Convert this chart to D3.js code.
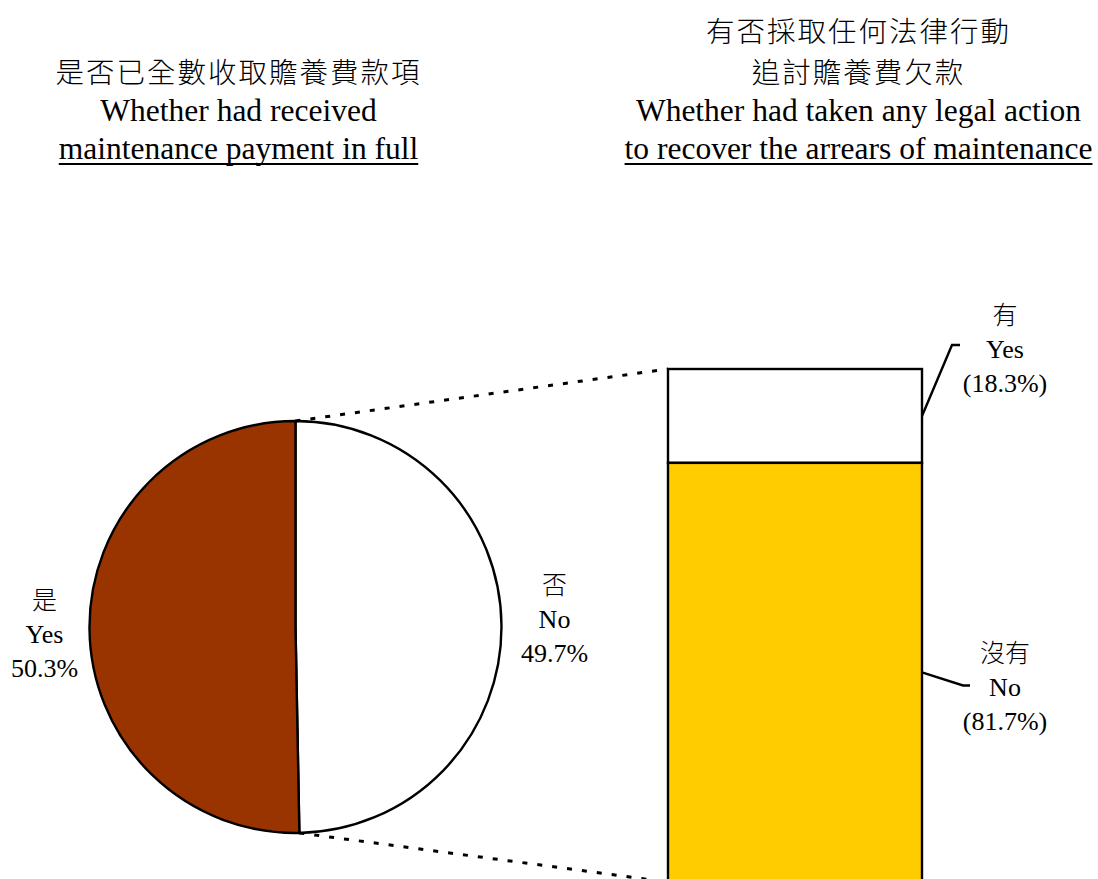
<!DOCTYPE html>
<html>
<head>
<meta charset="utf-8">
<script src="https://cdn.jsdelivr.net/npm/d3@7"></script>
<style>
  html, body { margin: 0; padding: 0; background: #fff; }
  svg { display: block; }
  text { font-family: "Liberation Serif", "Times New Roman", "Noto Sans CJK TC", serif; fill: #000; }
  .cjk { font-family: "Noto Sans CJK TC", "Noto Sans CJK SC", sans-serif; font-weight: 300; }
</style>
</head>
<body>
<svg id="chart" width="1098" height="879"></svg>
<script>
// Pie: whether maintenance payment was received in full
const pieCategories = ["否", "是"];
const pieCategoriesEn = ["No", "Yes"];
const pieValues = [49.7, 50.3];
const pieColors = ["#ffffff", "#993300"];

// Stacked bar: legal action taken to recover arrears (among "No")
const barCategories = ["有", "沒有"];
const barCategoriesEn = ["Yes", "No"];
const barValues = [18.3, 81.7];
const barColors = ["#ffffff", "#ffcc00"];

const leftTitle = ["是否已全數收取贍養費款項", "Whether had received", "maintenance payment in full"];
const rightTitle = ["有否採取任何法律行動", "追討贍養費欠款", "Whether had taken any legal action", "to recover the arrears of maintenance"];

const isCJK = s => /[\u3400-\u9fff]/.test(s);
const svg = d3.select("#chart");

// ---- titles: lines are stacked upward from the underlined last line ----
function drawTitle(lines, cx, lastBaseline) {
  const g = svg.append("g");
  let yPos = lastBaseline;
  let w = 0;
  for (let i = lines.length - 1; i >= 0; i--) {
    const t = lines[i];
    const cjk = isCJK(t);
    const txt = g.append("text")
      .attr("class", cjk ? "cjk" : null)
      .attr("x", cx)
      .attr("y", yPos)
      .attr("text-anchor", "middle")
      .attr("font-size", cjk ? 28.5 : 31.5)
      .attr("letter-spacing", cjk ? 2 : null)
      .text(t);
    if (i === lines.length - 1) w = txt.node().getComputedTextLength();
    // step to the previous line; CJK lines need a taller line box
    const prev = lines[i - 1];
    yPos -= (prev && isCJK(prev) && cjk) ? 41.5 : 38;
  }
  const uy = lastBaseline + 5;
  g.append("line")
    .attr("x1", cx - w / 2).attr("x2", cx + w / 2)
    .attr("y1", uy).attr("y2", uy)
    .attr("stroke", "#000").attr("stroke-width", 1.8);
}
drawTitle(leftTitle, 238.5, 159);
drawTitle(rightTitle, 858.5, 159);

// ---- pie ----
const cx = 295.5, cy = 627, r = 206;
const pie = d3.pie().sort(null).startAngle(0).endAngle(2 * Math.PI);
const arcs = pie(pieValues);
const arc = d3.arc().innerRadius(0).outerRadius(r);

const pieG = svg.append("g").attr("transform", `translate(${cx},${cy})`);
pieG.selectAll("path")
  .data(arcs)
  .join("path")
  .attr("d", arc)
  .attr("fill", (d, i) => pieColors[i])
  .attr("stroke", "#000")
  .attr("stroke-width", 2.4)
  .attr("stroke-linejoin", "round");

// pie labels: "No" to the right, "Yes" to the left
const pieLabelX = [cx + r + 53, cx - r - 45];
const pieLabelY = [594, 609];
const pieFmt = v => v.toFixed(1) + "%";
pieValues.forEach((v, i) => {
  const lines = [pieCategories[i], pieCategoriesEn[i], pieFmt(v)];
  lines.forEach((t, j) => {
    svg.append("text")
      .attr("class", isCJK(t) ? "cjk" : null)
      .attr("x", pieLabelX[i])
      .attr("y", pieLabelY[i] + j * 34)
      .attr("text-anchor", "middle")
      .attr("font-size", isCJK(t) ? 25 : 26)
      .text(t);
  });
});

// ---- stacked bar ----
const barX0 = 668, barX1 = 922;
const y = d3.scaleLinear().domain([0, 100]).range([369, 882]);
const stacked = [];
let acc = 0;
barValues.forEach((v, i) => { stacked.push({ v, i, y0: acc, y1: acc + v }); acc += v; });

svg.selectAll("rect.seg")
  .data(stacked)
  .join("rect")
  .attr("class", "seg")
  .attr("x", barX0)
  .attr("width", barX1 - barX0)
  .attr("y", d => y(d.y0))
  .attr("height", d => y(d.y1) - y(d.y0))
  .attr("fill", d => barColors[d.i])
  .attr("stroke", "#000")
  .attr("stroke-width", 2.4);

// connectors from pie "No" slice to the bar
const noArc = arcs[0];
const topPt = [cx + r * Math.sin(noArc.startAngle), cy - r * Math.cos(noArc.startAngle)];
const botPt = [cx + r * Math.sin(noArc.endAngle), cy - r * Math.cos(noArc.endAngle)];
[[topPt, [barX0, y(0)]], [botPt, [barX0, y(100)]]].forEach(([a, b]) => {
  svg.append("line")
    .attr("x1", a[0]).attr("y1", a[1])
    .attr("x2", b[0]).attr("y2", b[1])
    .attr("stroke", "#000")
    .attr("stroke-width", 3)
    .attr("stroke-dasharray", "5,10");
});

// bar labels with leader lines
const barLabelX = 1005;
const leader = [
  { dx: 30, dy: -71, hx: 8 },
  { dx: 41, dy: 13, hx: 7 }
];
const labelTop = [315, 653];
stacked.forEach((d, i) => {
  const ly = (y(d.y0) + y(d.y1)) / 2;
  const L = leader[i];
  svg.append("path")
    .attr("d", `M${barX1},${ly} L${barX1 + L.dx},${ly + L.dy} L${barX1 + L.dx + L.hx},${ly + L.dy}`)
    .attr("fill", "none")
    .attr("stroke", "#000")
    .attr("stroke-width", 2.4);
  const lines = [barCategories[i], barCategoriesEn[i], "(" + d.v.toFixed(1) + "%)"];
  lines.forEach((t, j) => {
    svg.append("text")
      .attr("class", isCJK(t) ? "cjk" : null)
      .attr("x", barLabelX)
      .attr("y", labelTop[i] + 9 + j * 34)
      .attr("text-anchor", "middle")
      .attr("font-size", isCJK(t) ? 25 : 26)
      .text(t);
  });
});
</script>
</body>
</html>
